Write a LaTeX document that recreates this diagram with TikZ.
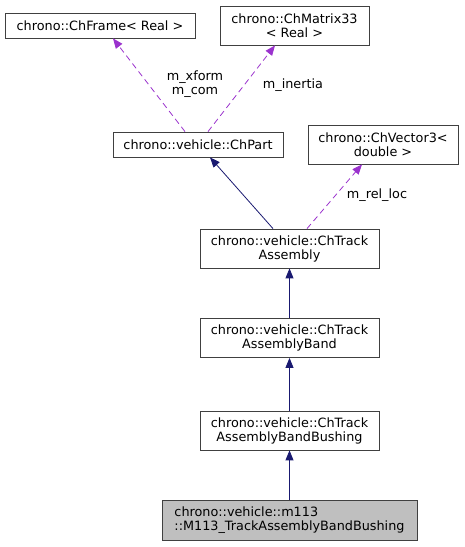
\documentclass[tikz,border=0pt]{standalone}
\usepackage{fontspec}
\setmainfont{DejaVu Sans}
\usetikzlibrary{arrows.meta}
\definecolor{edgeblue}{HTML}{191970}
\definecolor{edgepurple}{HTML}{9A32CD}
\definecolor{boxgray}{HTML}{BFBFBF}
\tikzset{%
	block/.style    = {draw=black!75, thick, rectangle, inner sep=0pt,
		align=center, font=\fontsize{12.8}{14}\selectfont},
	leaf/.style     = {block, fill=boxgray, align=left}, % Current class
	inherit/.style  = {draw=edgeblue, thick, -{Triangle[length=10pt,width=8pt]}}, % Base class
	member/.style   = {draw=edgepurple, thick, dash pattern=on 6pt off 4pt,
		-{Triangle[length=10pt,width=8pt,fill=edgepurple]}}, % Used member
	elabel/.style   = {align=center, font=\fontsize{12.8}{14}\selectfont}
}

\begin{document}
\begin{tikzpicture}[x=1pt,y=1pt]
			\useasboundingbox (0,0) rectangle (464,547);
			\node[block, minimum width=190pt, minimum height=25pt] (frame) at (100,521.5) {chrono::ChFrame< Real >};
			\node[block, minimum width=149pt, minimum height=39pt] (matrix) at (294.5,521.5) {chrono::ChMatrix33\\< Real >};
			\node[block, minimum width=170pt, minimum height=25pt] (part) at (198,402.5) {chrono::vehicle::ChPart};
			\node[block, minimum width=150pt, minimum height=39pt] (vector) at (383,402.5) {chrono::ChVector3<\\double >};
			\node[block, minimum width=179pt, minimum height=39pt] (track) at (289.5,298.5) {chrono::vehicle::ChTrack\\Assembly};
			\node[block, minimum width=179pt, minimum height=39pt] (band) at (289.5,209) {chrono::vehicle::ChTrack\\AssemblyBand};
			\node[block, minimum width=179pt, minimum height=39pt] (bushing) at (289.5,116.5) {chrono::vehicle::ChTrack\\AssemblyBandBushing};
			\node[leaf, minimum width=255pt, minimum height=40pt] (m113) at (289.5,27) {chrono::vehicle::m113\\::M113\_TrackAssemblyBandBushing};
			
			\draw[member] ([xshift=-13pt]part.north) -- ([xshift=13pt]frame.south);
			\draw[member] ([xshift=10pt]part.north) -- ([xshift=-19.5pt]matrix.south);
			\draw[member] ([xshift=17.5pt]track.north) -- ([xshift=-21pt]vector.south);
			\draw[inherit] ([xshift=-16.5pt]track.north) -- ([xshift=12pt]part.south);
			\draw[inherit] (band) -- (track);
			\draw[inherit] (bushing) -- (band);
			\draw[inherit] (m113) -- (bushing);
			
			\node[elabel] (xformlbl) at (195,463) {m\_xform\\m\_com};
			\node[elabel] (inertialbl) at (293,462) {m\_inertia};
			\node[elabel] (relloclbl) at (377,352) {m\_rel\_loc};
		\end{tikzpicture}
\end{document}
